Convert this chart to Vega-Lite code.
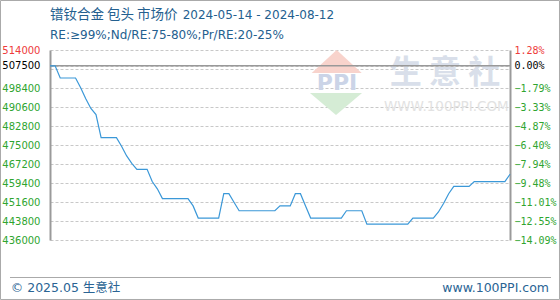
{
  "$schema": "https://vega.github.io/schema/vega-lite/v6.json",
  "width": 460,
  "height": 190,
  "autosize": "none",
  "padding": {"left": 50, "top": 50, "right": 50, "bottom": 60},
  "background": "#ffffff",
  "config": {"view": {"stroke": null}, "font": "DejaVu Sans"},
  "datasets": {
    "prices": [
      {"date": "2024/05/14", "price": 507500},
      {"date": "2024/05/15", "price": 507500},
      {"date": "2024/05/16", "price": 502500},
      {"date": "2024/05/17", "price": 502500},
      {"date": "2024/05/18", "price": 502500},
      {"date": "2024/05/19", "price": 502500},
      {"date": "2024/05/20", "price": 498500},
      {"date": "2024/05/21", "price": 494000},
      {"date": "2024/05/22", "price": 490000},
      {"date": "2024/05/23", "price": 487500},
      {"date": "2024/05/24", "price": 478000},
      {"date": "2024/05/25", "price": 478000},
      {"date": "2024/05/26", "price": 478000},
      {"date": "2024/05/27", "price": 478000},
      {"date": "2024/05/28", "price": 474500},
      {"date": "2024/05/29", "price": 470500},
      {"date": "2024/05/30", "price": 467500},
      {"date": "2024/05/31", "price": 465000},
      {"date": "2024/06/01", "price": 465000},
      {"date": "2024/06/02", "price": 465000},
      {"date": "2024/06/03", "price": 460000},
      {"date": "2024/06/04", "price": 457000},
      {"date": "2024/06/05", "price": 453000},
      {"date": "2024/06/06", "price": 453000},
      {"date": "2024/06/07", "price": 453000},
      {"date": "2024/06/08", "price": 453000},
      {"date": "2024/06/09", "price": 453000},
      {"date": "2024/06/10", "price": 453000},
      {"date": "2024/06/11", "price": 450000},
      {"date": "2024/06/12", "price": 445000},
      {"date": "2024/06/13", "price": 445000},
      {"date": "2024/06/14", "price": 445000},
      {"date": "2024/06/15", "price": 445000},
      {"date": "2024/06/16", "price": 445000},
      {"date": "2024/06/17", "price": 455000},
      {"date": "2024/06/18", "price": 455000},
      {"date": "2024/06/19", "price": 451500},
      {"date": "2024/06/20", "price": 448000},
      {"date": "2024/06/21", "price": 448000},
      {"date": "2024/06/22", "price": 448000},
      {"date": "2024/06/23", "price": 448000},
      {"date": "2024/06/24", "price": 448000},
      {"date": "2024/06/25", "price": 448000},
      {"date": "2024/06/26", "price": 448000},
      {"date": "2024/06/27", "price": 448000},
      {"date": "2024/06/28", "price": 450000},
      {"date": "2024/06/29", "price": 450000},
      {"date": "2024/06/30", "price": 450000},
      {"date": "2024/07/01", "price": 455000},
      {"date": "2024/07/02", "price": 455000},
      {"date": "2024/07/03", "price": 450000},
      {"date": "2024/07/04", "price": 445000},
      {"date": "2024/07/05", "price": 445000},
      {"date": "2024/07/06", "price": 445000},
      {"date": "2024/07/07", "price": 445000},
      {"date": "2024/07/08", "price": 445000},
      {"date": "2024/07/09", "price": 445000},
      {"date": "2024/07/10", "price": 445000},
      {"date": "2024/07/11", "price": 448000},
      {"date": "2024/07/12", "price": 448000},
      {"date": "2024/07/13", "price": 448000},
      {"date": "2024/07/14", "price": 448000},
      {"date": "2024/07/15", "price": 442500},
      {"date": "2024/07/16", "price": 442500},
      {"date": "2024/07/17", "price": 442500},
      {"date": "2024/07/18", "price": 442500},
      {"date": "2024/07/19", "price": 442500},
      {"date": "2024/07/20", "price": 442500},
      {"date": "2024/07/21", "price": 442500},
      {"date": "2024/07/22", "price": 442500},
      {"date": "2024/07/23", "price": 442500},
      {"date": "2024/07/24", "price": 445000},
      {"date": "2024/07/25", "price": 445000},
      {"date": "2024/07/26", "price": 445000},
      {"date": "2024/07/27", "price": 445000},
      {"date": "2024/07/28", "price": 445000},
      {"date": "2024/07/29", "price": 447500},
      {"date": "2024/07/30", "price": 451000},
      {"date": "2024/07/31", "price": 455000},
      {"date": "2024/08/01", "price": 458000},
      {"date": "2024/08/02", "price": 458000},
      {"date": "2024/08/03", "price": 458000},
      {"date": "2024/08/04", "price": 458000},
      {"date": "2024/08/05", "price": 460000},
      {"date": "2024/08/06", "price": 460000},
      {"date": "2024/08/07", "price": 460000},
      {"date": "2024/08/08", "price": 460000},
      {"date": "2024/08/09", "price": 460000},
      {"date": "2024/08/10", "price": 460000},
      {"date": "2024/08/11", "price": 460000},
      {"date": "2024/08/12", "price": 463000}
    ],
    "base": [{"price": 507500}],
    "frame": [{"part": "frame"}],
    "heading": [{"text": "镨钕合金 包头 市场价"}],
    "period": [{"text": "2024-05-14 - 2024-08-12"}],
    "spec": [{"text": "RE:≥99%;Nd/RE:75-80%;Pr/RE:20-25%"}],
    "brand": [{"text": "生 意 社"}],
    "brandUrl": [{"text": "WWW.100PPI.COM"}],
    "logoMark": [{"text": "PPI"}],
    "copyright": [{"text": "© 2025.05 生意社"}],
    "site": [{"text": "www.100PPI.com"}]
  },
  "resolve": {"axis": {"y": "independent"}},
  "layer": [
    {
      "data": {"name": "frame"},
      "mark": {"type": "rect", "fill": null, "stroke": "#aaaaaa", "strokeWidth": 1},
      "encoding": {
        "x": {"datum": {"year": 2024, "month": 5, "date": 4, "hours": 7, "minutes": 34}, "type": "temporal", "scale": {"domain": [{"year": 2024, "month": 5, "date": 14}, {"year": 2024, "month": 8, "date": 12}]}, "axis": null},
        "x2": {"datum": {"year": 2024, "month": 8, "date": 21, "hours": 16, "minutes": 26}},
        "y": {"datum": 534320, "type": "quantitative", "scale": {"domain": [436000, 514000], "zero": false, "nice": false}, "axis": null},
        "y2": {"datum": 411575}
      }
    },
    {
      "data": {"name": "logoMark"},
      "mark": {"type": "point", "shape": "M-1,0.46L0,-0.46L1,0.46Z", "filled": true, "color": "#f8d3cc", "size": 2500, "opacity": 1},
      "encoding": {
        "x": {"datum": {"year": 2024, "month": 7, "date": 9, "hours": 2, "minutes": 10}, "type": "temporal", "scale": {"domain": [{"year": 2024, "month": 5, "date": 14}, {"year": 2024, "month": 8, "date": 12}]}, "axis": null},
        "y": {"datum": 509280, "type": "quantitative", "scale": {"domain": [436000, 514000], "zero": false, "nice": false}, "axis": null}
      }
    },
    {
      "data": {"name": "logoMark"},
      "mark": {"type": "point", "shape": "M-1,-0.42L1,-0.42L0,0.42Z", "filled": true, "color": "#d5ecd5", "size": 2700, "opacity": 1},
      "encoding": {
        "x": {"datum": {"year": 2024, "month": 7, "date": 8, "hours": 23}, "type": "temporal", "scale": {"domain": [{"year": 2024, "month": 5, "date": 14}, {"year": 2024, "month": 8, "date": 12}]}, "axis": null},
        "y": {"datum": 491830, "type": "quantitative", "scale": {"domain": [436000, 514000], "zero": false, "nice": false}, "axis": null}
      }
    },
    {
      "data": {"name": "logoMark"},
      "mark": {"type": "text", "font": "DejaVu Sans", "fontSize": 22, "fontWeight": "bold", "color": "#cbd4e7", "align": "center", "baseline": "middle"},
      "encoding": {
        "text": {"field": "text"},
        "x": {"datum": {"year": 2024, "month": 7, "date": 9, "hours": 3, "minutes": 36}, "type": "temporal", "scale": {"domain": [{"year": 2024, "month": 5, "date": 14}, {"year": 2024, "month": 8, "date": 12}]}, "axis": null},
        "y": {"datum": 500250, "type": "quantitative", "scale": {"domain": [436000, 514000], "zero": false, "nice": false}, "axis": null}
      }
    },
    {
      "data": {"name": "brand"},
      "mark": {"type": "text", "font": "Noto Sans CJK SC", "fontSize": 32, "fontWeight": "bold", "color": "#d9dfea", "align": "center", "baseline": "middle"},
      "encoding": {
        "text": {"field": "text"},
        "x": {"datum": {"year": 2024, "month": 7, "date": 30, "hours": 6, "minutes": 43}, "type": "temporal", "scale": {"domain": [{"year": 2024, "month": 5, "date": 14}, {"year": 2024, "month": 8, "date": 12}]}, "axis": null},
        "y": {"datum": 504760, "type": "quantitative", "scale": {"domain": [436000, 514000], "zero": false, "nice": false}, "axis": null}
      }
    },
    {
      "data": {"name": "brandUrl"},
      "mark": {"type": "text", "font": "DejaVu Sans", "fontSize": 13.5, "color": "#e2e2e2", "align": "center", "baseline": "middle"},
      "encoding": {
        "text": {"field": "text"},
        "x": {"datum": {"year": 2024, "month": 7, "date": 30, "hours": 13}, "type": "temporal", "scale": {"domain": [{"year": 2024, "month": 5, "date": 14}, {"year": 2024, "month": 8, "date": 12}]}, "axis": null},
        "y": {"datum": 490720, "type": "quantitative", "scale": {"domain": [436000, 514000], "zero": false, "nice": false}, "axis": null}
      }
    },
    {
      "data": {"name": "base"},
      "mark": {"type": "rule", "color": "#999999", "strokeWidth": 1.5},
      "encoding": {
        "y": {
          "field": "price",
          "type": "quantitative",
          "scale": {"domain": [436000, 514000], "zero": false, "nice": false},
          "axis": {
            "orient": "right",
            "values": [436000, 443800, 451600, 459400, 467200, 475000, 482800, 490600, 498400, 507500, 514000],
            "labelExpr": "format((datum.value / 507500 - 1) * 100, '.2f') + '%'",
            "labelFont": "DejaVu Sans Mono",
            "labelFontSize": 10,
            "labelColor": {"condition": [{"test": "datum.value == 514000", "value": "#ee3b3b"}, {"test": "datum.value == 507500", "value": "#000000"}], "value": "#2fa52f"},
            "labelPadding": 4,
            "labelOverlap": false,
            "ticks": false,
            "grid": false,
            "domainColor": "#9a9a9a",
            "domainWidth": 2,
            "title": null
          }
        }
      }
    },
    {
      "data": {"name": "prices"},
      "mark": {"type": "line", "color": "#3b98d8", "strokeWidth": 1.2},
      "encoding": {
        "x": {
          "field": "date",
          "type": "temporal",
          "scale": {"domain": [{"year": 2024, "month": 5, "date": 14}, {"year": 2024, "month": 8, "date": 12}]},
          "axis": {
            "values": [
              {"year": 2024, "month": 5, "date": 14}, {"year": 2024, "month": 5, "date": 23},
              {"year": 2024, "month": 6, "date": 1}, {"year": 2024, "month": 6, "date": 10},
              {"year": 2024, "month": 6, "date": 19}, {"year": 2024, "month": 6, "date": 28},
              {"year": 2024, "month": 7, "date": 7}, {"year": 2024, "month": 7, "date": 16},
              {"year": 2024, "month": 7, "date": 25}, {"year": 2024, "month": 8, "date": 3},
              {"year": 2024, "month": 8, "date": 12}
            ],
            "format": "%m/%d",
            "labelFont": "DejaVu Sans",
            "labelFontSize": 10,
            "labelColor": "#1f4f7f",
            "labelPadding": 14,
            "labelFlush": false,
            "labelOverlap": false,
            "ticks": false,
            "grid": true,
            "gridDash": [3, 2],
            "gridColor": "#c8c8c8",
            "domainColor": "#9a9a9a",
            "domainWidth": 2,
            "title": null
          }
        },
        "y": {
          "field": "price",
          "type": "quantitative",
          "scale": {"domain": [436000, 514000], "zero": false, "nice": false},
          "axis": {
            "orient": "left",
            "values": [436000, 443800, 451600, 459400, 467200, 475000, 482800, 490600, 498400, 506200, 507500, 514000],
            "format": "d",
            "labelExpr": "datum.value == 506200 ? '' : datum.label",
            "labelFont": "DejaVu Sans",
            "labelFontSize": 10,
            "labelColor": {"condition": [{"test": "datum.value == 514000", "value": "#ee3b3b"}, {"test": "datum.value == 507500", "value": "#000000"}], "value": "#2fa52f"},
            "labelPadding": 10,
            "labelOverlap": false,
            "ticks": false,
            "grid": true,
            "gridDash": [3, 2],
            "gridColor": "#c8c8c8",
            "domainColor": "#9a9a9a",
            "domainWidth": 2,
            "title": null
          }
        }
      }
    },
    {
      "data": {"name": "heading"},
      "mark": {"type": "text", "font": "Noto Sans CJK SC", "fontSize": 13.5, "color": "#24608f", "align": "left", "baseline": "middle"},
      "encoding": {
        "text": {"field": "text"},
        "x": {"datum": {"year": 2024, "month": 5, "date": 14}, "type": "temporal", "scale": {"domain": [{"year": 2024, "month": 5, "date": 14}, {"year": 2024, "month": 8, "date": 12}]}, "axis": null},
        "y": {"datum": 528370, "type": "quantitative", "scale": {"domain": [436000, 514000], "zero": false, "nice": false}, "axis": null}
      }
    },
    {
      "data": {"name": "period"},
      "mark": {"type": "text", "font": "DejaVu Sans", "fontSize": 12, "color": "#24608f", "align": "left", "baseline": "middle"},
      "encoding": {
        "text": {"field": "text"},
        "x": {"datum": {"year": 2024, "month": 6, "date": 8, "hours": 23}, "type": "temporal", "scale": {"domain": [{"year": 2024, "month": 5, "date": 14}, {"year": 2024, "month": 8, "date": 12}]}, "axis": null},
        "y": {"datum": 528370, "type": "quantitative", "scale": {"domain": [436000, 514000], "zero": false, "nice": false}, "axis": null}
      }
    },
    {
      "data": {"name": "spec"},
      "mark": {"type": "text", "font": "DejaVu Sans", "fontSize": 12, "color": "#24608f", "align": "left", "baseline": "middle"},
      "encoding": {
        "text": {"field": "text"},
        "x": {"datum": {"year": 2024, "month": 5, "date": 14}, "type": "temporal", "scale": {"domain": [{"year": 2024, "month": 5, "date": 14}, {"year": 2024, "month": 8, "date": 12}]}, "axis": null},
        "y": {"datum": 520160, "type": "quantitative", "scale": {"domain": [436000, 514000], "zero": false, "nice": false}, "axis": null}
      }
    },
    {
      "data": {"name": "frame"},
      "mark": {"type": "rule", "color": "#aaaaaa", "strokeWidth": 1},
      "encoding": {
        "x": {"datum": {"year": 2024, "month": 5, "date": 6, "hours": 4, "minutes": 10}, "type": "temporal", "scale": {"domain": [{"year": 2024, "month": 5, "date": 14}, {"year": 2024, "month": 8, "date": 12}]}, "axis": null},
        "x2": {"datum": {"year": 2024, "month": 8, "date": 20, "hours": 0, "minutes": 28}},
        "y": {"datum": 420600, "type": "quantitative", "scale": {"domain": [436000, 514000], "zero": false, "nice": false}, "axis": null}
      }
    },
    {
      "data": {"name": "copyright"},
      "mark": {"type": "text", "font": "DejaVu Sans, Noto Sans CJK SC", "fontSize": 12.5, "color": "#2a6494", "align": "left", "baseline": "middle"},
      "encoding": {
        "text": {"field": "text"},
        "x": {"datum": {"year": 2024, "month": 5, "date": 6, "hours": 7, "minutes": 28}, "type": "temporal", "scale": {"domain": [{"year": 2024, "month": 5, "date": 14}, {"year": 2024, "month": 8, "date": 12}]}, "axis": null},
        "y": {"datum": 416300, "type": "quantitative", "scale": {"domain": [436000, 514000], "zero": false, "nice": false}, "axis": null}
      }
    },
    {
      "data": {"name": "site"},
      "mark": {"type": "text", "font": "DejaVu Sans", "fontSize": 12.5, "color": "#2a6494", "align": "right", "baseline": "middle"},
      "encoding": {
        "text": {"field": "text"},
        "x": {"datum": {"year": 2024, "month": 8, "date": 19, "hours": 15, "minutes": 7}, "type": "temporal", "scale": {"domain": [{"year": 2024, "month": 5, "date": 14}, {"year": 2024, "month": 8, "date": 12}]}, "axis": null},
        "y": {"datum": 416300, "type": "quantitative", "scale": {"domain": [436000, 514000], "zero": false, "nice": false}, "axis": null}
      }
    }
  ]
}
